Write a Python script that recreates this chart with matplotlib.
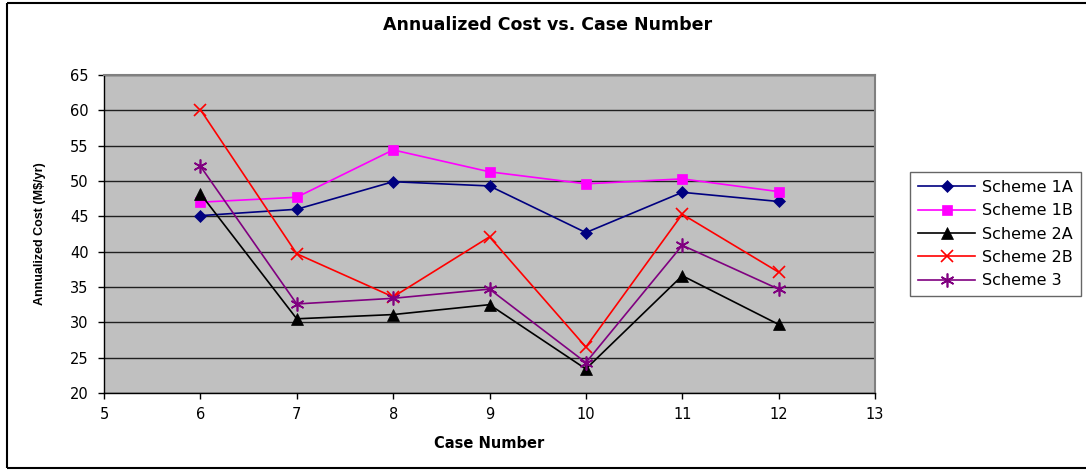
import matplotlib
matplotlib.use('Agg')
import matplotlib.pyplot as plt
from matplotlib.lines import Line2D

# Annualized cost (M$/yr) per case, one list per scheme
cases = [6, 7, 8, 9, 10, 11, 12]
scheme_1a = [45.1, 46.0, 49.9, 49.3, 42.7, 48.4, 47.1]
scheme_1b = [47.0, 47.7, 54.4, 51.3, 49.6, 50.3, 48.5]
scheme_2a = [48.2, 30.5, 31.1, 32.5, 23.4, 36.6, 29.7]
scheme_2b = [60.1, 39.7, 33.6, 42.1, 26.5, 45.3, 37.1]
scheme_3 = [52.1, 32.6, 33.4, 34.7, 24.3, 40.9, 34.7]

x_ticks = [5, 6, 7, 8, 9, 10, 11, 12, 13]
y_ticks = [20, 25, 30, 35, 40, 45, 50, 55, 60, 65]

plt.rcParams['font.family'] = ['DejaVu Sans']

W, H = 1086, 470
fig = plt.figure(figsize=(W / 100, H / 100), dpi=100, facecolor='white')

# chart frame: left, top and bottom edges
fx0, fy_top, fy_bot = 7 / W, 1 - 3 / H, 1 - 468 / H
for xs, ys in (([fx0, fx0], [fy_bot, fy_top]),
               ([fx0, 1.0], [fy_top, fy_top]),
               ([fx0, 1.0], [fy_bot, fy_bot])):
    fig.add_artist(Line2D(xs, ys, transform=fig.transFigure,
                          color='black', linewidth=1.5, solid_capstyle='butt'))

left, right, top, bottom = 104, 875, 75, 393
ax = fig.add_axes([left / W, 1 - bottom / H, (right - left) / W, (bottom - top) / H])
ax.set_facecolor('#c0c0c0')

series = [
    ('Scheme 1A', scheme_1a, '#000080', 'D', 6.5),
    ('Scheme 1B', scheme_1b, '#ff00ff', 's', 7.5),
    ('Scheme 2A', scheme_2a, '#000000', '^', 8.5),
    ('Scheme 2B', scheme_2b, '#ff0000', 'x', 9),
    ('Scheme 3', scheme_3, '#800080', (6, 2, 0), 10),
]
for label, vals, color, marker, ms in series:
    ax.plot(cases, vals, color=color, marker=marker, markersize=ms,
            linewidth=1.2, markeredgewidth=1.2 if marker in ('x', (6, 2, 0)) else 0.5,
            markerfacecolor=color, markeredgecolor=color, label=label, zorder=3)

ax.set_xlim(5, 13)
ax.set_ylim(20, 65)
ax.set_xticks(x_ticks)
ax.set_yticks(y_ticks)
ax.yaxis.grid(True, color='#202020', linewidth=1.0)
ax.set_axisbelow(True)

for side in ('top', 'right'):
    ax.spines[side].set_color('#808080')
    ax.spines[side].set_linewidth(1.5)
for side in ('left', 'bottom'):
    ax.spines[side].set_color('black')
    ax.spines[side].set_linewidth(1.0)

ax.tick_params(axis='both', direction='out', length=4, width=1, labelsize=10.5,
               colors='black')
ax.tick_params(axis='y', pad=7)
ax.tick_params(axis='x', pad=6)

fig.text(548 / W, 1 - 25 / H, 'Annualized Cost vs. Case Number', fontsize=12.5,
         fontweight='bold', ha='center', va='center')
ax.set_xlabel('Case Number', fontsize=10.5, fontweight='bold', labelpad=10)
ax.set_ylabel(r'Annualized Cost (M\$/yr)', fontsize=9, fontweight='bold',
              family=['Liberation Sans'], labelpad=17)

leg = ax.legend(loc='upper left', bbox_to_anchor=(910 / W, 1 - 172 / H),
                bbox_transform=fig.transFigure, frameon=True, fancybox=False,
                fontsize=11.5, handlelength=3.6, borderpad=0.5, labelspacing=0.52,
                handletextpad=0.4, borderaxespad=0)
leg.get_frame().set_edgecolor('#404040')
leg.get_frame().set_linewidth(1.0)

fig.savefig('out.png', dpi=100, facecolor='white')
